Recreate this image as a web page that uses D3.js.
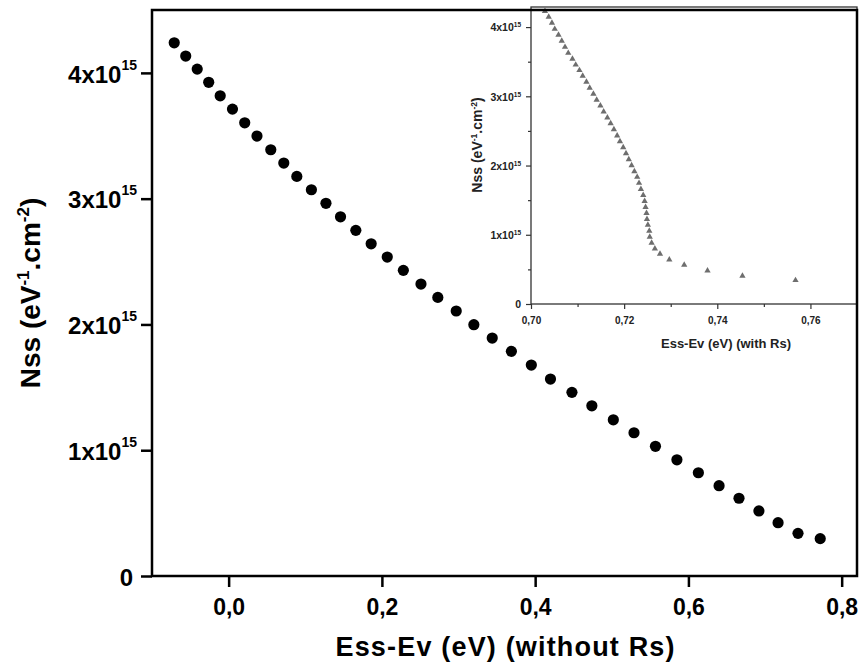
<!DOCTYPE html>
<html>
<head>
<meta charset="utf-8">
<script src="https://cdn.jsdelivr.net/npm/d3@7"></script>
<style>
body { margin: 0; background: #fff; }
svg { display: block; font-family: "Liberation Sans", Arial, Helvetica, sans-serif; font-weight: bold; }
</style>
</head>
<body>
<svg id="chart" width="859" height="667"></svg>
<script>
// main plot : Nss vs Ess-Ev (without Rs)
var essWithout = [-0.071, -0.056, -0.041, -0.026, -0.011, 0.005, 0.021, 0.037, 0.055, 0.072,
    0.089, 0.108, 0.127, 0.146, 0.166, 0.186, 0.207, 0.228, 0.251, 0.273,
    0.297, 0.320, 0.344, 0.369, 0.395, 0.420, 0.448, 0.474, 0.502, 0.529,
    0.557, 0.585, 0.613, 0.640, 0.666, 0.692, 0.717, 0.743, 0.772];
var nssWithout = [4.239e15, 4.134e15, 4.030e15, 3.925e15, 3.818e15, 3.712e15, 3.603e15, 3.498e15, 3.389e15, 3.283e15,
    3.177e15, 3.071e15, 2.963e15, 2.856e15, 2.748e15, 2.641e15, 2.536e15, 2.430e15, 2.321e15, 2.215e15,
    2.107e15, 1.998e15, 1.892e15, 1.786e15, 1.677e15, 1.566e15, 1.460e15, 1.353e15, 1.242e15, 1.139e15,
    1.031e15, 0.924e15, 0.821e15, 0.718e15, 0.618e15, 0.517e15, 0.424e15, 0.339e15, 0.297e15];

// inset : Nss vs Ess-Ev (with Rs)
var essWith = [0.7030, 0.7038, 0.7045, 0.7051, 0.7059, 0.7066, 0.7073, 0.7080, 0.7089, 0.7096,
    0.7104, 0.7111, 0.7119, 0.7126, 0.7134, 0.7141, 0.7149, 0.7156, 0.7164, 0.7171,
    0.7178, 0.7185, 0.7191, 0.7198, 0.7204, 0.7210, 0.7216, 0.7222, 0.7228, 0.7232,
    0.7236, 0.7241, 0.7244, 0.7246, 0.7248, 0.7249, 0.7251, 0.7254, 0.7255, 0.7259,
    0.7266, 0.7277, 0.7297, 0.7329, 0.7379, 0.7454, 0.7568];
var nssWith = [4.230e15, 4.146e15, 4.059e15, 3.972e15, 3.886e15, 3.799e15, 3.712e15, 3.625e15, 3.540e15, 3.455e15,
    3.376e15, 3.295e15, 3.208e15, 3.122e15, 3.035e15, 2.948e15, 2.865e15, 2.779e15, 2.692e15, 2.609e15,
    2.522e15, 2.431e15, 2.349e15, 2.262e15, 2.175e15, 2.088e15, 2.001e15, 1.915e15, 1.834e15, 1.747e15,
    1.660e15, 1.573e15, 1.486e15, 1.399e15, 1.313e15, 1.226e15, 1.143e15, 1.056e15, 0.970e15, 0.883e15,
    0.800e15, 0.724e15, 0.641e15, 0.564e15, 0.482e15, 0.405e15, 0.343e15];

// ticks and labels
var mainXTicks = [0, 0.2, 0.4, 0.6, 0.8];
var mainXLabels = ["0,0", "0,2", "0,4", "0,6", "0,8"];
var nssTicks = [0, 1e15, 2e15, 3e15, 4e15];
var nssLabels = ["0", "1x10", "2x10", "3x10", "4x10"];
var insetXTicks = [0.70, 0.72, 0.74, 0.76];
var insetXLabels = ["0,70", "0,72", "0,74", "0,76"];
var insetXMinor = [0.71, 0.73, 0.75];
var insetYMinor = [0.5e15, 1.5e15, 2.5e15, 3.5e15];

var svg = d3.select("#chart");

var main = {left: 152, right: 857, top: 10, bottom: 576};
var x = d3.scaleLinear().domain([-0.1, 0.82]).range([main.left, main.right]);
var y = d3.scaleLinear().domain([0, 4.5e15]).range([main.bottom, main.top]);

//writes "Nx10" with the 15 exponent as superscript
function powerLabels(g, supSize, supDy) {
    g.selectAll(".tick text").each(function(d, i) {
        var t = d3.select(this).text(null);
        t.append("tspan").text(nssLabels[i]);
        if (d !== 0) {
            t.append("tspan").attr("font-size", supSize).attr("dy", supDy).text("15");
        }
    });
}

// main axes
var gx = svg.append("g")
    .attr("transform", "translate(0," + main.bottom + ")")
    .call(d3.axisBottom(x).tickValues(mainXTicks).tickSize(11).tickSizeOuter(0).tickPadding(12)
        .tickFormat(function(d, i) { return mainXLabels[i]; }))
    .attr("font-family", null).attr("font-size", 23);
gx.select(".domain").remove();
gx.selectAll(".tick line").attr("stroke", "#000").attr("stroke-width", 2.5);
gx.selectAll(".tick text").attr("fill", "#000");

var gy = svg.append("g")
    .attr("transform", "translate(" + main.left + ",0)")
    .call(d3.axisLeft(y).tickValues(nssTicks).tickSize(11).tickSizeOuter(0).tickPadding(4).tickFormat(""))
    .attr("font-family", null).attr("font-size", 24);
gy.select(".domain").remove();
gy.selectAll(".tick line").attr("stroke", "#000").attr("stroke-width", 2.5);
gy.selectAll(".tick text").attr("fill", "#000").attr("dy", "0.38em")
    .attr("x", function(d) { return d === 0 ? -19 : -15; });
powerLabels(gy, 14, -13);

// main points
svg.append("g").selectAll("circle")
    .data(d3.zip(essWithout, nssWithout))
    .enter()
    .append("circle")
    .attr("cx", function(d) { return x(d[0]); })
    .attr("cy", function(d) { return y(d[1]); })
    .attr("r", 5.6)
    .attr("fill", "#000");

// axis titles
svg.append("text")
    .attr("x", 505).attr("y", 656)
    .attr("text-anchor", "middle")
    .attr("font-size", 27)
    .attr("textLength", 339)
    .text("Ess-Ev (eV) (without Rs)");

var yt = svg.append("text")
    .attr("transform", "translate(40,293) rotate(-90)")
    .attr("text-anchor", "middle")
    .attr("font-size", 28);
yt.append("tspan").text("Nss (eV");
yt.append("tspan").attr("font-size", 17).attr("dy", -11).text("-1");
yt.append("tspan").attr("dy", 11).text(".cm");
yt.append("tspan").attr("font-size", 17).attr("dy", -11).text("-2");
yt.append("tspan").attr("dy", 11).text(")");

// ---------- inset ----------
var inset = {left: 531, right: 857, top: 7, bottom: 304};
var ix = d3.scaleLinear().domain([0.70, 0.77]).range([inset.left, inset.right]);
var iy = d3.scaleLinear().domain([0, 4.29e15]).range([inset.bottom, inset.top]);
var insetColor = "#333";

svg.append("rect")
    .attr("x", inset.left).attr("y", inset.top)
    .attr("width", inset.right - inset.left).attr("height", inset.bottom - inset.top)
    .attr("fill", "#fff")
    .attr("stroke", insetColor)
    .attr("stroke-width", 1.3);

var igx = svg.append("g")
    .attr("transform", "translate(0," + inset.bottom + ")")
    .call(d3.axisBottom(ix).tickValues(insetXTicks).tickSize(5).tickSizeOuter(0).tickPadding(8)
        .tickFormat(function(d, i) { return insetXLabels[i]; }))
    .attr("font-family", null).attr("font-size", 10);
igx.select(".domain").remove();
igx.selectAll(".tick line").attr("stroke", insetColor).attr("stroke-width", 1.2);
igx.selectAll(".tick text").attr("fill", "#222");

var igxm = svg.append("g")
    .attr("transform", "translate(0," + inset.bottom + ")")
    .call(d3.axisBottom(ix).tickValues(insetXMinor).tickSize(3).tickSizeOuter(0).tickFormat(""));
igxm.select(".domain").remove();
igxm.selectAll(".tick line").attr("stroke", insetColor).attr("stroke-width", 1.2);

var igy = svg.append("g")
    .attr("transform", "translate(" + inset.left + ",0)")
    .call(d3.axisLeft(iy).tickValues(nssTicks).tickSize(5).tickSizeOuter(0).tickPadding(5).tickFormat(""))
    .attr("font-family", null).attr("font-size", 10.5);
igy.select(".domain").remove();
igy.selectAll(".tick line").attr("stroke", insetColor).attr("stroke-width", 1.2);
igy.selectAll(".tick text").attr("fill", "#222").attr("dy", "0.36em");
powerLabels(igy, 6.5, -4);

var igym = svg.append("g")
    .attr("transform", "translate(" + inset.left + ",0)")
    .call(d3.axisLeft(iy).tickValues(insetYMinor).tickSize(3).tickSizeOuter(0).tickFormat(""));
igym.select(".domain").remove();
igym.selectAll(".tick line").attr("stroke", insetColor).attr("stroke-width", 1.2);

// inset points (grey triangles)
svg.append("g").selectAll("path")
    .data(d3.zip(essWith, nssWith))
    .enter()
    .append("path")
    .attr("d", d3.symbol(d3.symbolTriangle, 17))
    .attr("transform", function(d) { return "translate(" + ix(d[0]) + "," + iy(d[1]) + ")"; })
    .attr("fill", "#6e6e6e");

svg.append("text")
    .attr("x", 726).attr("y", 348)
    .attr("text-anchor", "middle")
    .attr("font-size", 13)
    .attr("fill", "#222")
    .text("Ess-Ev (eV) (with Rs)");

var iyt = svg.append("text")
    .attr("transform", "translate(482,145) rotate(-90)")
    .attr("text-anchor", "middle")
    .attr("font-size", 14)
    .attr("fill", "#222");
iyt.append("tspan").text("Nss (eV");
iyt.append("tspan").attr("font-size", 8.5).attr("dy", -5).text("-1");
iyt.append("tspan").attr("dy", 5).text(".cm");
iyt.append("tspan").attr("font-size", 8.5).attr("dy", -5).text("-2");
iyt.append("tspan").attr("dy", 5).text(")");

// main frame on top
svg.append("rect")
    .attr("x", main.left).attr("y", main.top)
    .attr("width", main.right - main.left).attr("height", main.bottom - main.top)
    .attr("fill", "none")
    .attr("stroke", "#000")
    .attr("stroke-width", 2.5);
</script>
</body>
</html>
